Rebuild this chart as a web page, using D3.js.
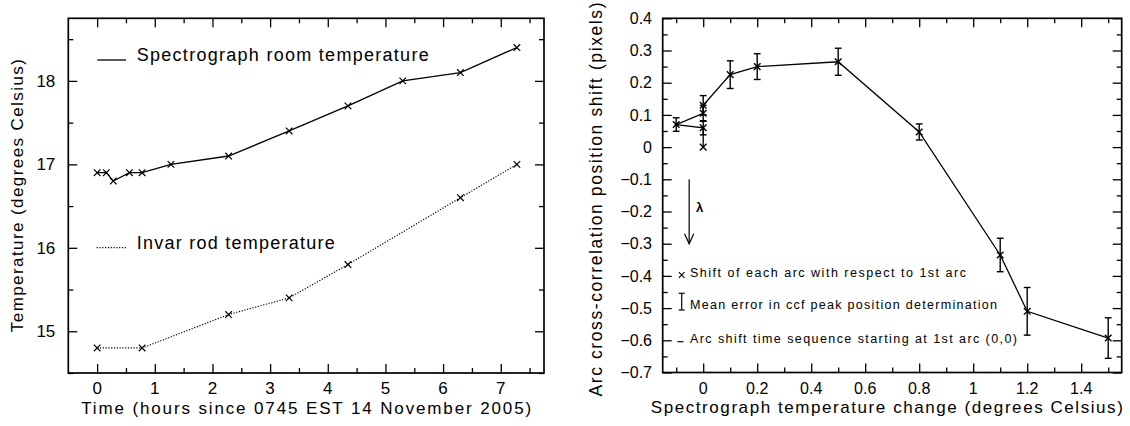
<!DOCTYPE html>
<html>
<head>
<meta charset="utf-8">
<script src="https://cdn.jsdelivr.net/npm/d3@7"></script>
<style>
  body { margin: 0; background: #fff; }
  text { font-family: "Liberation Sans", Arial, sans-serif; fill: #000; }
</style>
</head>
<body>
<svg id="chart" width="1130" height="426"></svg>
<script>
// left panel: temperatures during the night
const roomHours = [0, 0.16, 0.28, 0.56, 0.78, 1.28, 2.28, 3.33, 4.35, 5.3, 6.3, 7.28];
const roomTemp = [16.9, 16.9, 16.8, 16.9, 16.9, 17.0, 17.1, 17.4, 17.7, 18.0, 18.1, 18.4];
const rodHours = [0, 0.78, 2.28, 3.33, 4.35, 6.3, 7.28];
const rodTemp = [14.8, 14.8, 15.2, 15.4, 15.8, 16.6, 17.0];
const hourTicks = [0, 1, 2, 3, 4, 5, 6, 7];
const tempTicks = [15, 16, 17, 18];

// right panel: arc shifts, in time order starting at the 1st arc (0,0)
const tempChange = [0, 0, -0.1, 0, 0, 0.1, 0.2, 0.5, 0.8, 1.1, 1.2, 1.5];
const arcShift = [0, 0.06, 0.07, 0.105, 0.13, 0.225, 0.25, 0.265, 0.047, -0.335, -0.51, -0.593];
const shiftErr = [0, 0.022, 0.021, 0.025, 0.03, 0.043, 0.04, 0.042, 0.025, 0.052, 0.074, 0.063];
const changeTicks = [0, 0.2, 0.4, 0.6, 0.8, 1, 1.2, 1.4];
const shiftTicks = [-0.7, -0.6, -0.5, -0.4, -0.3, -0.2, -0.1, 0, 0.1, 0.2, 0.3, 0.4];

const svg = d3.select('#chart');
const fmt = d3.format('~g');
const cross = 'M-3.3,-3.3L3.3,3.3M-3.3,3.3L3.3,-3.3';

// inward ticks on all four sides, PGPLOT style
function ticks(g, x, y, xs, ys, len) {
    const w = x.range()[1], h = y.range()[0];
    const sides = [
        [d3.axisBottom(x).tickValues(xs), `translate(0,${h})`],
        [d3.axisTop(x).tickValues(xs), 'translate(0,0)'],
        [d3.axisLeft(y).tickValues(ys), 'translate(0,0)'],
        [d3.axisRight(y).tickValues(ys), `translate(${w},0)`]
    ];
    sides.forEach(([axis, tr]) => {
        const a = g.append('g').attr('transform', tr)
            .call(axis.tickSize(-len).tickFormat(''));
        a.select('.domain').remove();
        a.selectAll('line').attr('stroke', '#000').attr('stroke-width', 1.3);
    });
}

function frame(g, x, y) {
    g.append('rect')
        .attr('width', x.range()[1])
        .attr('height', y.range()[0])
        .attr('fill', 'none')
        .attr('stroke', '#000')
        .attr('stroke-width', 1.7);
}

function fitText(sel, len) {
    return sel.attr('textLength', len).attr('lengthAdjust', 'spacing');
}

// ---------- left panel ----------
{
    const left = 68.3, top = 18.3, w = 475.7, h = 354.7;
    const g = svg.append('g').attr('transform', `translate(${left},${top})`);
    const x = d3.scaleLinear().domain([-0.5, 7.75]).range([0, w]);
    const y = d3.scaleLinear().domain([14.5, 18.75]).range([h, 0]);

    ticks(g, x, y, hourTicks, tempTicks, 9);
    ticks(g, x, y, d3.range(0, 8).map(d => d + 0.5), d3.range(14, 19).map(d => d + 0.5), 5);
    frame(g, x, y);

    g.selectAll('.xlab').data(hourTicks).enter().append('text')
        .attr('x', d => x(d)).attr('y', h + 21)
        .attr('text-anchor', 'middle').attr('font-size', 17)
        .text(fmt);
    g.selectAll('.ylab').data(tempTicks).enter().append('text')
        .attr('x', -13).attr('y', d => y(d)).attr('dy', '0.36em')
        .attr('text-anchor', 'end').attr('font-size', 17)
        .text(fmt);

    const room = roomHours.map((d, i) => [d, roomTemp[i]]);
    const rod = rodHours.map((d, i) => [d, rodTemp[i]]);
    const line = d3.line().x(d => x(d[0])).y(d => y(d[1]));

    g.append('path').attr('d', line(room))
        .attr('fill', 'none').attr('stroke', '#000').attr('stroke-width', 1.3);
    g.append('path').attr('d', line(rod))
        .attr('fill', 'none').attr('stroke', '#000').attr('stroke-width', 1.2)
        .attr('stroke-dasharray', '1.2,1.6');

    g.selectAll('.room').data(room.concat(rod)).enter().append('path')
        .attr('transform', d => `translate(${x(d[0])},${y(d[1])})`)
        .attr('d', cross).attr('stroke', '#000').attr('stroke-width', 1.2);

    // legend
    g.append('line').attr('x1', 29).attr('x2', 57.7).attr('y1', 41.7).attr('y2', 41.7)
        .attr('stroke', '#000').attr('stroke-width', 1.3);
    fitText(g.append('text').attr('x', 68.4).attr('y', 43).attr('font-size', 18)
        .text('Spectrograph room temperature'), 292);
    g.append('line').attr('x1', 28.4).attr('x2', 57.7).attr('y1', 229.4).attr('y2', 229.4)
        .attr('stroke', '#000').attr('stroke-width', 1.2).attr('stroke-dasharray', '1.2,1.6');
    fitText(g.append('text').attr('x', 68.4).attr('y', 230.5).attr('font-size', 18)
        .text('Invar rod temperature'), 198);

    // axis titles
    fitText(g.append('text').attr('x', w / 2).attr('y', 414 - top)
        .attr('text-anchor', 'middle').attr('font-size', 17)
        .text('Time (hours since 0745 EST 14 November 2005)'), 450);
    fitText(g.append('text')
        .attr('transform', `translate(${23 - left},${h / 2}) rotate(-90)`)
        .attr('text-anchor', 'middle').attr('font-size', 17)
        .text('Temperature (degrees Celsius)'), 273);
}

// ---------- right panel ----------
{
    const left = 662.7, top = 18.3, w = 459, h = 354.2;
    const g = svg.append('g').attr('transform', `translate(${left},${top})`);
    const x = d3.scaleLinear().domain([-0.15, 1.55]).range([0, w]);
    const y = d3.scaleLinear().domain([-0.7, 0.4]).range([h, 0]);

    ticks(g, x, y, changeTicks, shiftTicks, 9);
    ticks(g, x, y, d3.range(-1, 16, 2).map(d => d / 10), d3.range(-13, 8, 2).map(d => d / 20), 5);
    frame(g, x, y);

    g.selectAll('.xlab').data(changeTicks).enter().append('text')
        .attr('x', d => x(d)).attr('y', h + 21.7)
        .attr('text-anchor', 'middle').attr('font-size', 16)
        .text(fmt);
    g.selectAll('.ylab').data(shiftTicks).enter().append('text')
        .attr('x', -10.7).attr('y', d => y(d)).attr('dy', '0.36em')
        .attr('text-anchor', 'end').attr('font-size', 16)
        .text(fmt);

    const pts = tempChange.map((d, i) => ({ x: d, y: arcShift[i], e: shiftErr[i] }));

    g.append('path')
        .attr('d', d3.line().x(d => x(d.x)).y(d => y(d.y))(pts))
        .attr('fill', 'none').attr('stroke', '#000').attr('stroke-width', 1.3);

    const bars = g.selectAll('.err').data(pts.filter(d => d.e > 0)).enter().append('g')
        .attr('stroke', '#000').attr('stroke-width', 1.4);
    bars.append('line')
        .attr('x1', d => x(d.x)).attr('x2', d => x(d.x))
        .attr('y1', d => y(d.y - d.e)).attr('y2', d => y(d.y + d.e));
    [-1, 1].forEach(s => {
        bars.append('line')
            .attr('x1', d => x(d.x) - 3.4).attr('x2', d => x(d.x) + 3.4)
            .attr('y1', d => y(d.y + s * d.e)).attr('y2', d => y(d.y + s * d.e));
    });

    g.selectAll('.pt').data(pts).enter().append('path')
        .attr('transform', d => `translate(${x(d.x)},${y(d.y)})`)
        .attr('d', cross).attr('stroke', '#000').attr('stroke-width', 1.4);

    // wavelength direction arrow
    const ax = x(-0.052), ay0 = y(-0.1), ay1 = y(-0.3);
    g.append('line').attr('x1', ax).attr('x2', ax).attr('y1', ay0).attr('y2', ay1)
        .attr('stroke', '#000').attr('stroke-width', 1.2);
    g.append('path').attr('d', `M${ax - 4.6},${ay1 - 10}L${ax},${ay1}L${ax + 4.6},${ay1 - 10}`)
        .attr('fill', 'none').attr('stroke', '#000').attr('stroke-width', 1.2);
    g.append('text').attr('x', x(-0.013)).attr('y', y(-0.188)).attr('dy', '0.35em')
        .attr('text-anchor', 'middle').attr('font-size', 13).attr('font-weight', 'bold')
        .text('λ');

    // legend
    const lx = 681.7 - left, tx = 690 - left;
    g.append('path').attr('transform', `translate(${lx},${275 - top})`)
        .attr('d', 'M-2.8,-2.8L2.8,2.8M-2.8,2.8L2.8,-2.8').attr('stroke', '#000').attr('stroke-width', 1.1);
    fitText(g.append('text').attr('x', tx).attr('y', 277.5 - top).attr('font-size', 12.5)
        .text('Shift of each arc with respect to 1st arc'), 276);

    const eb = g.append('g').attr('stroke', '#000').attr('stroke-width', 1.2);
    eb.append('line').attr('x1', lx).attr('x2', lx).attr('y1', 293.3 - top).attr('y2', 310 - top);
    eb.append('line').attr('x1', lx - 3).attr('x2', lx + 3).attr('y1', 293.3 - top).attr('y2', 293.3 - top);
    eb.append('line').attr('x1', lx - 3).attr('x2', lx + 3).attr('y1', 310 - top).attr('y2', 310 - top);
    fitText(g.append('text').attr('x', tx).attr('y', 309 - top).attr('font-size', 12.5)
        .text('Mean error in ccf peak position determination'), 307);

    g.append('line').attr('x1', 677.5 - left).attr('x2', 683.5 - left)
        .attr('y1', 341.7 - top).attr('y2', 341.7 - top)
        .attr('stroke', '#000').attr('stroke-width', 1.2);
    fitText(g.append('text').attr('x', tx).attr('y', 343.3 - top).attr('font-size', 12.5)
        .text('Arc shift time sequence starting at 1st arc (0,0)'), 327);

    // axis titles
    fitText(g.append('text').attr('x', (650.7 + 1123) / 2 - left).attr('y', 413.3 - top)
        .attr('text-anchor', 'middle').attr('font-size', 17)
        .text('Spectrograph temperature change (degrees Celsius)'), 472);
    fitText(g.append('text')
        .attr('transform', `translate(${601.5 - left},${199.5 - top}) rotate(-90)`)
        .attr('text-anchor', 'middle').attr('font-size', 17.5)
        .text('Arc cross-correlation position shift (pixels)'), 394);
}
</script>
</body>
</html>
